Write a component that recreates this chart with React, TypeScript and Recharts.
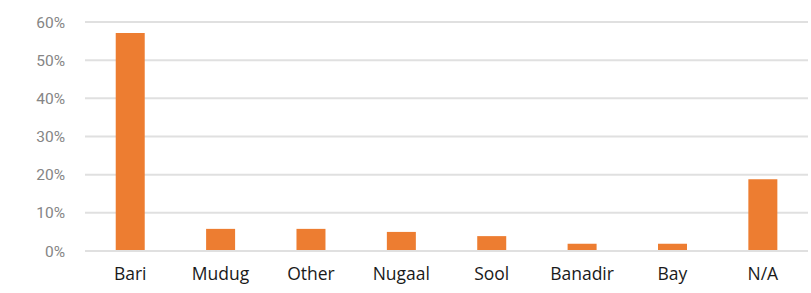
import React from "react";
import { BarChart, Bar, XAxis, YAxis, CartesianGrid } from "recharts";

const categories = ["Bari", "Mudug", "Other", "Nugaal", "Sool", "Banadir", "Bay", "N/A"];
const shares = [0.571, 0.058, 0.058, 0.05, 0.039, 0.019, 0.019, 0.188];
const yTicks = [0, 0.1, 0.2, 0.3, 0.4, 0.5, 0.6];

const data = categories.map((name, i) => ({ name, value: shares[i] }));

export default function App() {
  return (
    <div style={{ position: "absolute", left: 0, top: 0, background: "#fff" }}>
      <BarChart
        width={811}
        height={293}
        data={data}
        margin={{ top: 22, right: 3, bottom: 0, left: 0 }}
        barCategoryGap="34%"
      >
        <CartesianGrid vertical={false} stroke="#e0e0e0" strokeWidth={2} />
        <XAxis
          dataKey="name"
          height={42}
          axisLine={{ stroke: "#e0e0e0", strokeWidth: 2 }}
          tickLine={false}
          tick={{ fill: "#1a1a1a", fontSize: 17.5, fontFamily: "Open Sans" }}
          tickMargin={11}
          interval={0}
        />
        <YAxis
          width={85}
          domain={[0, 0.6]}
          ticks={yTicks}
          axisLine={false}
          tickLine={false}
          tickFormatter={(v: number) => `${Math.round(v * 100)}%`}
          tick={{ fill: "#858585", fontSize: 15.5, fontFamily: "Roboto" }}
          tickMargin={14}
        />
        <Bar dataKey="value" fill="#ED7D31" isAnimationActive={false} />
      </BarChart>
    </div>
  );
}
